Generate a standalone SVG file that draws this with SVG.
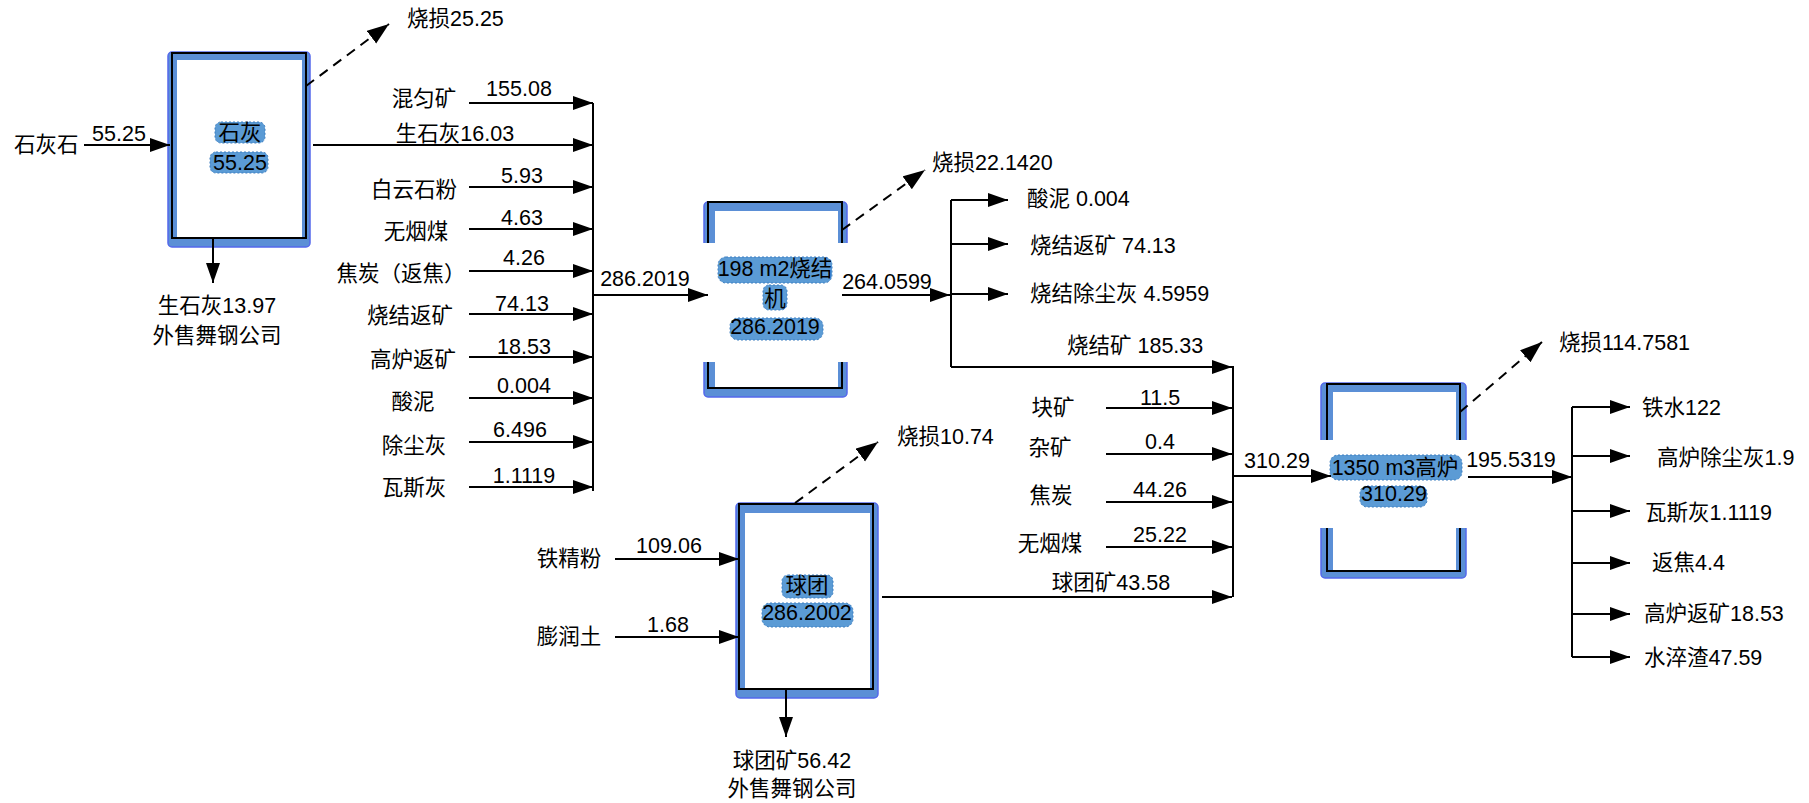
<svg xmlns="http://www.w3.org/2000/svg" width="1809" height="803" viewBox="0 0 1809 803">
<defs>
<marker id="ah" markerUnits="userSpaceOnUse" markerWidth="22" markerHeight="16" refX="20" refY="7" orient="auto">
<path d="M0,0 L20,7 L0,14 z" fill="#000"/>
</marker>
<marker id="ahd" markerUnits="userSpaceOnUse" markerWidth="24" markerHeight="18" refX="22" refY="8" orient="auto">
<path d="M0,0 L22,8 L0,16 z" fill="#000"/>
</marker>
<style>
.t{font-family:"Liberation Sans","Noto Sans CJK SC",sans-serif;font-size:21.5px;fill:#000}
.c{text-anchor:middle}
.ln{stroke:#000;stroke-width:2;fill:none}
.ar{marker-end:url(#ah)}
.ds{stroke-dasharray:10 7;marker-end:url(#ahd)}
.blue{fill:#5b8fd6;stroke:#5468ec;stroke-width:1.5}
.wh{fill:#fff}
.bk{fill:none;stroke:#000;stroke-width:2}
.hl{fill:#5b9bd5;stroke:#3f7fc0;stroke-width:1;stroke-dasharray:2 2}
</style>
</defs>
<rect width="1809" height="803" fill="#fff"/>

<g id="node-lime">
<rect class="blue" x="168" y="52" width="142" height="195" rx="4"/>
<rect class="wh" x="177" y="60" width="125" height="177"/>
<rect class="bk" x="172" y="53" width="134" height="185"/>
<rect class="hl" x="215" y="122" width="50" height="21" rx="6"/>
<rect class="hl" x="210" y="152" width="58" height="21" rx="6"/>
<text class="t c" x="240" y="140">石灰</text>
<text class="t c" x="240" y="170">55.25</text>
</g>

<g id="node-sinter">
<rect class="blue" x="704" y="202" width="143" height="195" rx="4"/>
<rect class="wh" x="715" y="211" width="123" height="176"/>
<rect class="bk" x="708" y="202" width="134" height="186"/>
<rect class="wh" x="700" y="243" width="150" height="119"/>
<rect class="hl" x="718" y="257" width="114" height="26" rx="8"/>
<rect class="hl" x="763" y="285" width="24" height="25" rx="6"/>
<rect class="hl" x="730" y="318" width="93" height="22" rx="8"/>
<text class="t c" x="775" y="276">198 m2烧结</text>
<text class="t c" x="775" y="306">机</text>
<text class="t c" x="775" y="334">286.2019</text>
</g>

<g id="node-pellet">
<rect class="blue" x="736" y="503" width="142" height="195" rx="4"/>
<rect class="wh" x="745" y="513" width="125" height="175"/>
<rect class="bk" x="739" y="504" width="134" height="185"/>
<rect class="hl" x="782" y="575" width="51" height="23" rx="6"/>
<rect class="hl" x="762" y="603" width="91" height="24" rx="8"/>
<text class="t c" x="807" y="593">球团</text>
<text class="t c" x="807" y="620">286.2002</text>
</g>

<g id="node-bf">
<rect class="blue" x="1321" y="383" width="145" height="195" rx="4"/>
<rect class="wh" x="1333" y="392" width="123" height="178"/>
<rect class="bk" x="1327" y="384" width="133" height="187"/>
<rect class="wh" x="1316" y="440" width="154" height="88"/>
<rect class="hl" x="1330" y="455" width="132" height="25" rx="8"/>
<rect class="hl" x="1360" y="486" width="67" height="21" rx="7"/>
<text class="t c" x="1395" y="475">1350 m3高炉</text>
<text class="t c" x="1394" y="501">310.29</text>
</g>

<g id="connectors">
<path class="ln ar" d="M84,145 H170"/>
<path class="ln ds" d="M306,86 L389,24"/>
<path class="ln ar" d="M213,239 V283"/>
<path class="ln ar" d="M313,145 H593"/>
<path class="ln ar" d="M469,103 H593"/>
<path class="ln ar" d="M469,187 H593"/>
<path class="ln ar" d="M469,229 H593"/>
<path class="ln ar" d="M469,271 H593"/>
<path class="ln ar" d="M469,314 H593"/>
<path class="ln ar" d="M469,357 H593"/>
<path class="ln ar" d="M469,398 H593"/>
<path class="ln ar" d="M469,442 H593"/>
<path class="ln ar" d="M469,487 H593"/>
<path class="ln" d="M593,103 V491"/>
<path class="ln ar" d="M593,295 H708"/>

<path class="ln ds" d="M842,230 L925,170"/>
<path class="ln ar" d="M842,295 H950"/>
<path class="ln" d="M951,200 V367"/>
<path class="ln ar" d="M951,200 H1008"/>
<path class="ln ar" d="M951,244 H1008"/>
<path class="ln ar" d="M951,294 H1008"/>
<path class="ln ar" d="M951,367 H1232"/>

<path class="ln ar" d="M1106,408 H1232"/>
<path class="ln ar" d="M1106,454 H1232"/>
<path class="ln ar" d="M1106,502 H1232"/>
<path class="ln ar" d="M1106,547 H1232"/>
<path class="ln ar" d="M882,597 H1232"/>
<path class="ln" d="M1233,366 V597"/>
<path class="ln ar" d="M1233,476 H1331"/>

<path class="ln ar" d="M615,559 H739"/>
<path class="ln ar" d="M615,637 H739"/>
<path class="ln ds" d="M795,503 L878,442"/>
<path class="ln ar" d="M786,690 V737"/>

<path class="ln ds" d="M1460,412 L1542,342"/>
<path class="ln ar" d="M1468,477 H1572"/>
<path class="ln" d="M1572,407 V657"/>
<path class="ln ar" d="M1572,407 H1630"/>
<path class="ln ar" d="M1572,456 H1630"/>
<path class="ln ar" d="M1572,511 H1630"/>
<path class="ln ar" d="M1572,563 H1630"/>
<path class="ln ar" d="M1572,614 H1630"/>
<path class="ln ar" d="M1572,657 H1630"/>
</g>

<g id="labels-lime">
<text class="t" x="14" y="152">石灰石</text>
<text class="t c" x="119" y="141">55.25</text>
<text class="t" x="407" y="26">烧损25.25</text>
<text class="t c" x="217" y="313">生石灰13.97</text>
<text class="t c" x="217" y="343">外售舞钢公司</text>
</g>

<g id="labels-sinter-in">
<text class="t c" x="455" y="141">生石灰16.03</text>
<text class="t c" x="424" y="106">混匀矿</text>
<text class="t c" x="414" y="197">白云石粉</text>
<text class="t c" x="416" y="239">无烟煤</text>
<text class="t c" x="401" y="281">焦炭（返焦）</text>
<text class="t c" x="410" y="323">烧结返矿</text>
<text class="t c" x="413" y="367">高炉返矿</text>
<text class="t c" x="413" y="409">酸泥</text>
<text class="t c" x="414" y="453">除尘灰</text>
<text class="t c" x="414" y="495">瓦斯灰</text>
<text class="t c" x="519" y="96">155.08</text>
<text class="t c" x="522" y="183">5.93</text>
<text class="t c" x="522" y="225">4.63</text>
<text class="t c" x="524" y="265">4.26</text>
<text class="t c" x="522" y="311">74.13</text>
<text class="t c" x="524" y="354">18.53</text>
<text class="t c" x="524" y="393">0.004</text>
<text class="t c" x="520" y="437">6.496</text>
<text class="t c" x="524" y="483">1.1119</text>
<text class="t c" x="645" y="286">286.2019</text>
</g>

<g id="labels-sinter-out">
<text class="t" x="932" y="170">烧损22.1420</text>
<text class="t c" x="887" y="289">264.0599</text>
<text class="t" x="1027" y="206">酸泥 0.004</text>
<text class="t" x="1030" y="253">烧结返矿 74.13</text>
<text class="t" x="1030" y="301">烧结除尘灰 4.5959</text>
<text class="t" x="1067" y="353">烧结矿 185.33</text>
</g>

<g id="labels-bf-in">
<text class="t c" x="1053" y="415">块矿</text>
<text class="t c" x="1050" y="455">杂矿</text>
<text class="t c" x="1051" y="503">焦炭</text>
<text class="t c" x="1050" y="551">无烟煤</text>
<text class="t c" x="1160" y="405">11.5</text>
<text class="t c" x="1160" y="449">0.4</text>
<text class="t c" x="1160" y="497">44.26</text>
<text class="t c" x="1160" y="542">25.22</text>
<text class="t c" x="1111" y="590">球团矿43.58</text>
<text class="t c" x="1277" y="468">310.29</text>
</g>

<g id="labels-pellet">
<text class="t c" x="569" y="566">铁精粉</text>
<text class="t c" x="569" y="644">膨润土</text>
<text class="t c" x="669" y="553">109.06</text>
<text class="t c" x="668" y="632">1.68</text>
<text class="t" x="897" y="444">烧损10.74</text>
<text class="t c" x="792" y="768">球团矿56.42</text>
<text class="t c" x="792" y="796">外售舞钢公司</text>
</g>

<g id="labels-bf-out">
<text class="t" x="1559" y="350">烧损114.7581</text>
<text class="t c" x="1511" y="467">195.5319</text>
<text class="t" x="1642" y="415">铁水122</text>
<text class="t" x="1657" y="465">高炉除尘灰1.9</text>
<text class="t" x="1645" y="520">瓦斯灰1.1119</text>
<text class="t" x="1652" y="570">返焦4.4</text>
<text class="t" x="1644" y="621">高炉返矿18.53</text>
<text class="t" x="1644" y="665">水淬渣47.59</text>
</g>
</svg>
